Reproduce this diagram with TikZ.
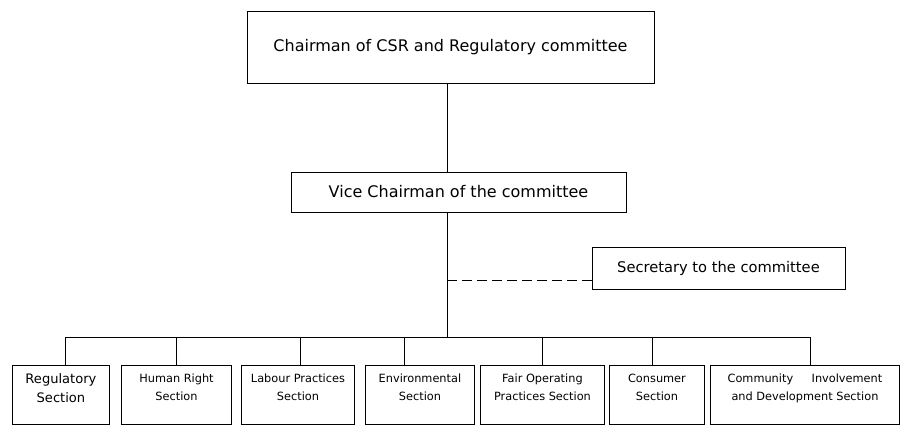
\documentclass[tikz,border=0pt]{standalone}
\usepackage{fontspec}
\setmainfont{DejaVu Sans}
\usetikzlibrary{positioning, calc}

\begin{document}
\begin{tikzpicture}[
    x=0.75pt, y=-0.75pt,
    line width=0.7pt,
    topbox/.style={
        draw, rectangle, align=center, inner sep=0pt,
        font=\fontsize{12}{14}\selectfont
    },
    secbox/.style={
        draw, rectangle, align=center, inner sep=0pt,
        font=\fontsize{11}{13}\selectfont
    },
    unit/.style={
        draw, rectangle, anchor=north west, inner sep=0pt,
        minimum height=44.25pt,
        font=\fontsize{8.5}{13.5}\selectfont
    },
    link/.style={draw, line width=0.7pt},
    dashlink/.style={draw, dash pattern=on 7.5pt off 3.75pt}
]
\useasboundingbox (0,0) rectangle (904,430);

% top of the chart
\node[topbox, minimum width=305.25pt, minimum height=54pt] (chair) at (450.5,47)
    {Chairman of CSR and Regulatory committee};
\node[topbox, minimum width=251.25pt, minimum height=30pt] (vice) at (458.5,192)
    {Vice Chairman of the committee};
\node[secbox, minimum width=189.75pt, minimum height=31.5pt] (sec) at (718.5,268)
    {\raisebox{2pt}{Secretary to the committee}};

% sections
\node[unit, minimum width=72.75pt] (regsec) at (12,365)
    {\parbox[t][40pt][t]{72pt}{\centering\vspace{4pt}\fontsize{9.8}{14.25}\selectfont Regulatory\\Section}};
\node[unit, minimum width=82.5pt] (hrsec) at (121,365)
    {\parbox[t][40pt][t]{82pt}{\centering\vspace{4pt}Human Right\\Section}};
\node[unit, minimum width=84.75pt] (labsec) at (241,365)
    {\parbox[t][40pt][t]{84pt}{\centering\vspace{4pt}Labour Practices\\Section}};
\node[unit, minimum width=81.75pt] (envsec) at (365,365)
    {\parbox[t][40pt][t]{81pt}{\centering\vspace{4pt}Environmental\\Section}};
\node[unit, minimum width=93pt] (fopsec) at (480,365)
    {\parbox[t][40pt][t]{92pt}{\centering\vspace{4pt}Fair Operating\\Practices Section}};
\node[unit, minimum width=71.25pt] (consec) at (609,365)
    {\parbox[t][40pt][t]{70pt}{\centering\vspace{4pt}Consumer\\Section}};
\node[unit, minimum width=141.75pt] (comsec) at (710,365)
    {\parbox[t][40pt][t]{141pt}{\centering\vspace{4pt}\makebox[116pt][s]{Community Involvement}\\and Development Section}};

% connectors
\coordinate (bus) at (447,337);
\coordinate (secjoin) at (447,280);
\coordinate (d1) at (65,337);
\coordinate (d2) at (176,337);
\coordinate (d3) at (300,337);
\coordinate (d4) at (404,337);
\coordinate (d5) at (542,337);
\coordinate (d6) at (652,337);
\coordinate (d7) at (810,337);

\path[link] (chair.south -| bus) -- (vice.north -| bus);
\path[link] (vice.south -| bus) -- (bus);
\path[dashlink] (secjoin) -- (secjoin -| sec.west);
\path[link] (d1) -- (d7);
\path[link] (d1) -- (d1 |- regsec.north);
\path[link] (d2) -- (d2 |- hrsec.north);
\path[link] (d3) -- (d3 |- labsec.north);
\path[link] (d4) -- (d4 |- envsec.north);
\path[link] (d5) -- (d5 |- fopsec.north);
\path[link] (d6) -- (d6 |- consec.north);
\path[link] (d7) -- (d7 |- comsec.north);

\end{tikzpicture}
\end{document}
